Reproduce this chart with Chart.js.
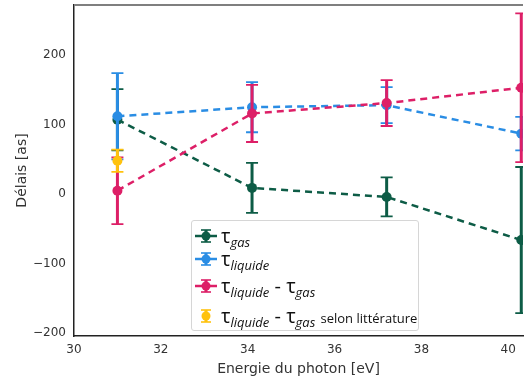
<!DOCTYPE html>
<html>
<head>
<meta charset="utf-8">
<script src="https://cdn.jsdelivr.net/npm/chart.js@4"></script>
<style>
  html, body { margin: 0; padding: 0; background: #fff; }
  #wrap { position: relative; width: 528px; height: 378px; }
  #legend {
    position: absolute; left: 191px; top: 220px; width: 226px; height: 109px;
    border: 1px solid #d6d6d6; border-radius: 3px; background: rgba(255,255,255,0.9);
    font-family: "Open Sans", "Noto Sans", sans-serif; color: #111;
  }
  .row { position: absolute; left: 0; height: 22px; white-space: nowrap; }
  .row svg { position: absolute; left: 3px; top: 4px; }
  .row span.t { position: absolute; left: 29px; top: 0; font-size: 20px; line-height: 22px; }
  .row sub { font-size: 13px; font-style: italic; vertical-align: -4px; }
  .row small { font-size: 13px; font-style: normal; }
</style>
</head>
<body>
<div id="wrap">
  <canvas id="chart" width="528" height="378"></canvas>
  <div id="legend"></div>
</div>
<script>
// valeurs
const energie = [31, 34.1, 37.2, 40.3];

const tauGas = [107, 9, -4, -66];
const errGas = [44, 36, 28, 105];

const tauLiquide = [112, 125, 128, 87];
const errLiquide = [62, 36, 26, 24];

const tauDiff = [5, 116, 131, 153];
const errDiff = [48, 41, 33, 107];

const energieLit = [31];
const tauLit = [48];
const errLit = [16];

const ticksY = [-200, -100, 0, 100, 200];
const ticksX = [30, 32, 34, 36, 38, 40];

const vert = "#0d5c46";
const bleu = "#2a8de4";
const rose = "#dd1f67";
const jaune = "#ffc20e";

function pts(xs, ys) {
  return xs.map((x, i) => ({ x: x, y: ys[i] }));
}

// barres d'erreur dessinées avant chaque série
const errorBars = {
  id: "errorBars",
  beforeDatasetDraw(chart, args) {
    const ds = chart.data.datasets[args.index];
    if (!ds.err) return;
    const ctx = chart.ctx;
    const xs = chart.scales.x, ys = chart.scales.y;
    ctx.save();
    ctx.beginPath();
    ctx.rect(chart.chartArea.left, chart.chartArea.top - 1, chart.chartArea.width, chart.chartArea.height + 2);
    ctx.clip();
    ctx.strokeStyle = ds.borderColor;
    ds.data.forEach((p, i) => {
      const x = xs.getPixelForValue(p.x);
      const y1 = ys.getPixelForValue(p.y + ds.err[i]);
      const y2 = ys.getPixelForValue(p.y - ds.err[i]);
      ctx.lineWidth = 3;
      ctx.beginPath();
      ctx.moveTo(x, y1); ctx.lineTo(x, y2);
      ctx.stroke();
      ctx.lineWidth = 1.8;
      ctx.beginPath();
      ctx.moveTo(x - 6, y1); ctx.lineTo(x + 6, y1);
      ctx.moveTo(x - 6, y2); ctx.lineTo(x + 6, y2);
      ctx.stroke();
    });
    ctx.restore();
  }
};

// cadre: ligne du haut grise
const cadre = {
  id: "cadre",
  afterDraw(chart) {
    const a = chart.chartArea, ctx = chart.ctx;
    ctx.save();
    ctx.strokeStyle = "#7f7f7f";
    ctx.lineWidth = 2;
    ctx.beginPath();
    ctx.moveTo(a.left, a.top); ctx.lineTo(a.right, a.top);
    ctx.stroke();
    ctx.restore();
  }
};

function serie(label, xs, ys, err, color, order, dashed) {
  return {
    label: label,
    data: pts(xs, ys),
    err: err,
    borderColor: color,
    backgroundColor: color,
    borderWidth: 2.5,
    borderDash: dashed ? [7, 5] : [],
    showLine: dashed,
    pointRadius: 5,
    pointHoverRadius: 5,
    pointBorderWidth: 0,
    order: order,
    clip: { left: 0, top: 0, right: 0, bottom: 0 }
  };
}

const ctx = document.getElementById("chart").getContext("2d");
new Chart(ctx, {
  type: "scatter",
  data: {
    datasets: [
      serie("τgas", energie, tauGas, errGas, vert, 4, true),
      serie("τliquide", energie, tauLiquide, errLiquide, bleu, 3, true),
      serie("τliquide - τgas", energie, tauDiff, errDiff, rose, 2, true),
      serie("τliquide - τgas selon littérature", energieLit, tauLit, errLit, jaune, 1, false)
    ]
  },
  options: {
    responsive: false,
    animation: false,
    layout: { padding: { top: 5, right: 0, left: 14, bottom: 0 } },
    plugins: { legend: { display: false }, tooltip: { enabled: false } },
    scales: {
      x: {
        type: "linear",
        min: 30,
        max: 40.34,
        afterBuildTicks: (s) => { s.ticks = ticksX.map(v => ({ value: v })); },
        afterFit: (s) => { s.height = 42; s.paddingRight = 0; },
        grid: { display: false, drawTicks: true, tickLength: 5, tickColor: "#222" },
        border: { color: "#222", width: 1.5 },
        ticks: { color: "#333", font: { family: "DejaVu Sans", size: 12 }, padding: 2, maxRotation: 0 },
        title: { display: true, text: "Energie du photon [eV]", color: "#333",
                 font: { family: "DejaVu Sans", size: 14 }, padding: { top: 0, bottom: 0 } }
      },
      y: {
        min: -204,
        max: 272,
        afterBuildTicks: (s) => { s.ticks = ticksY.map(v => ({ value: v })); },
        afterFit: (s) => { s.width = 60; s.paddingTop = 0; s.paddingBottom = 0; },
        grid: { display: false, drawTicks: true, tickLength: 5, tickColor: "#222" },
        border: { color: "#222", width: 1.5 },
        ticks: { color: "#333", font: { family: "DejaVu Sans", size: 12 }, padding: 3,
                 callback: (v) => String(v).replace("-", "\u2212") },
        title: { display: true, text: "Délais [as]", color: "#333",
                 font: { family: "DejaVu Sans", size: 14 }, padding: { top: 0, bottom: 0 } }
      }
    }
  },
  plugins: [errorBars, cadre]
});

// légende avec indices
const legendItems = [
  { color: vert, html: "τ<sub>gas</sub>", line: true, top: 4 },
  { color: bleu, html: "τ<sub>liquide</sub>", line: true, top: 27 },
  { color: rose, html: "τ<sub>liquide</sub> - τ<sub>gas</sub>", line: true, top: 54 },
  { color: jaune, html: "τ<sub>liquide</sub> - τ<sub>gas</sub> <small>selon littérature</small>", line: false, top: 84 }
];
const leg = document.getElementById("legend");
legendItems.forEach((it) => {
  const row = document.createElement("div");
  row.className = "row";
  row.style.top = it.top + "px";
  const c = it.color;
  let svg = '<svg width="22" height="14" viewBox="0 0 22 14">';
  if (it.line) svg += '<line x1="0" y1="7" x2="22" y2="7" stroke="' + c + '" stroke-width="2.5"/>';
  svg += '<line x1="11" y1="1" x2="11" y2="13" stroke="' + c + '" stroke-width="3"/>';
  svg += '<line x1="6" y1="1" x2="16" y2="1" stroke="' + c + '" stroke-width="1.6"/>';
  svg += '<line x1="6" y1="13" x2="16" y2="13" stroke="' + c + '" stroke-width="1.6"/>';
  svg += '<circle cx="11" cy="7" r="4.5" fill="' + c + '"/></svg>';
  row.innerHTML = svg + '<span class="t">' + it.html + '</span>';
  leg.appendChild(row);
});
</script>
</body>
</html>
